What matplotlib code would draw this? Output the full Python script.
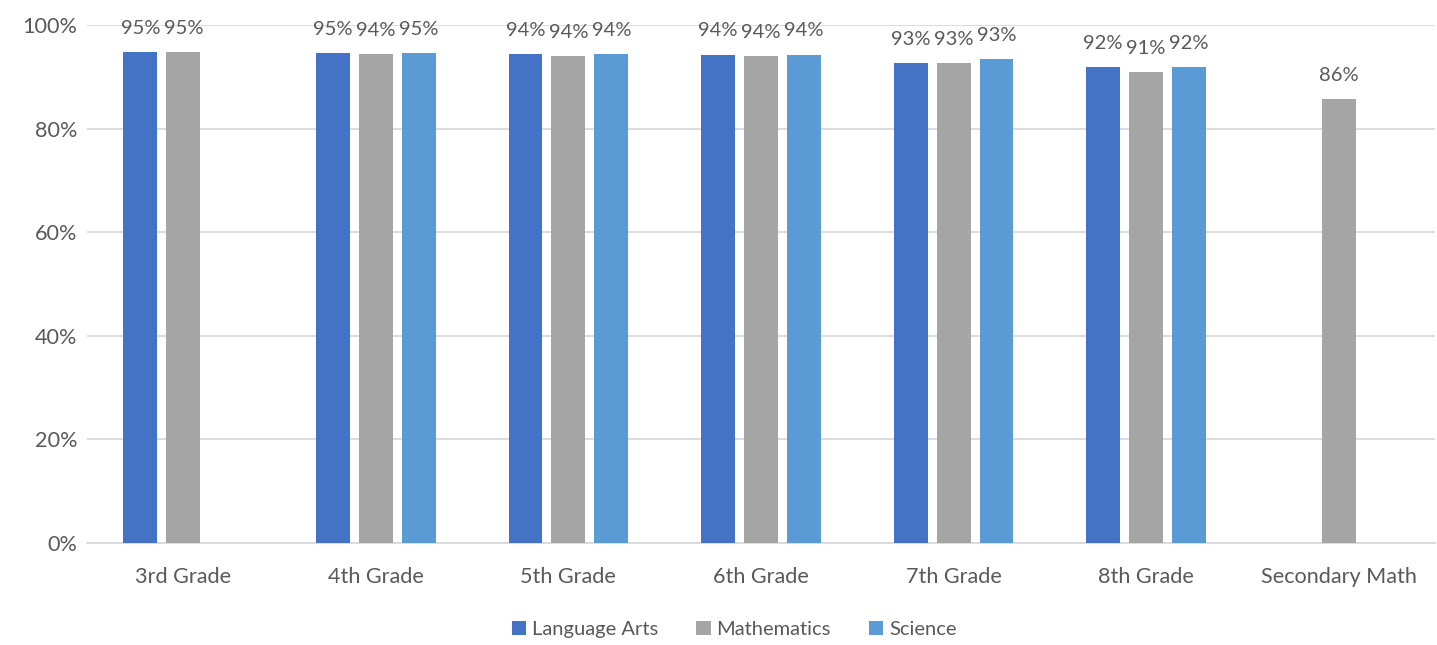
import numpy as np
import matplotlib.pyplot as plt

grades = ['3rd Grade', '4th Grade', '5th Grade', '6th Grade', '7th Grade', '8th Grade', 'Secondary Math']
lang_arts = [0.948, 0.946, 0.944, 0.943, 0.927, 0.918, np.nan]
math = [0.947, 0.944, 0.941, 0.941, 0.926, 0.910, 0.857]
science = [np.nan, 0.946, 0.944, 0.943, 0.934, 0.918, np.nan]

series = [('Language Arts', lang_arts, '#4472C4'),
          ('Mathematics', math, '#A5A5A5'),
          ('Science', science, '#5B9BD5')]

plt.rcParams['font.family'] = ['Lato', 'DejaVu Sans']
txt = '#595959'

fig = plt.figure(figsize=(14.37, 6.45), dpi=100)
ax = fig.add_axes([87 / 1437, 102 / 645, 1348 / 1437, 518 / 645])

x = np.arange(len(grades))
w = 0.176
step = 0.223
for i, (name, vals, col) in enumerate(series):
    pos = x + (i - 1) * step
    ax.bar(pos, vals, width=w, color=col, label=name, zorder=3)
    for p, v in zip(pos, vals):
        if not np.isnan(v):
            ax.annotate(f'{round(v * 100)}%', (p, v), xytext=(0, 13), textcoords='offset points',
                        ha='center', va='baseline', fontsize=14.5, color=txt)

ax.set_xlim(-0.5, len(grades) - 0.5)
ax.set_ylim(0, 1)
ax.set_yticks(np.arange(0, 1.01, 0.2))
ax.set_yticklabels([f'{int(round(t * 100))}%' for t in np.arange(0, 1.01, 0.2)])
ax.set_xticks(x)
ax.set_xticklabels(grades)
ax.tick_params(axis='both', length=0, labelsize=15.6, labelcolor=txt)
ax.tick_params(axis='x', pad=17)
ax.tick_params(axis='y', pad=7)
ax.grid(axis='y', color='#D9D9D9', linewidth=1.3, zorder=0)
for s in ['top', 'right', 'left']:
    ax.spines[s].set_visible(False)
ax.spines['bottom'].set_color('#D9D9D9')
ax.spines['bottom'].set_linewidth(1.3)

fig.legend(loc='lower center', bbox_to_anchor=(0.511, -0.017), ncol=3, frameon=False,
           fontsize=14.5, labelcolor=txt, handlelength=0.7, handleheight=0.7,
           handletextpad=0.3, columnspacing=1.9)

fig.savefig('out.png', dpi=100)
